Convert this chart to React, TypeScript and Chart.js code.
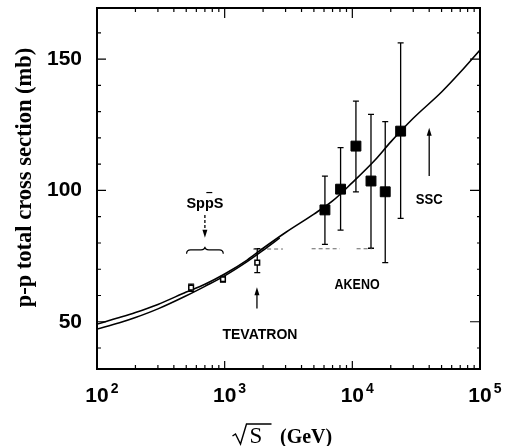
import React, { useEffect, useRef } from 'react';
import { Chart, registerables } from 'chart.js';

Chart.register(...registerables);

// ---------------- data ----------------
const upperCurveX = [100, 150, 200, 300, 500, 700, 1000, 1500, 2000, 3000, 5000, 7000, 10000, 15000, 20000, 30000, 50000, 70000, 100000];
const upperCurveY = [49.1, 51.6, 53.5, 56.6, 61.3, 64.3, 68.2, 73.5, 78, 84, 91, 96, 103, 111.5, 118.5, 127.5, 137.5, 145, 153.5];

const lowerCurveX = [100, 150, 200, 300, 500, 700, 1000, 1500, 2000, 2700];
const lowerCurveY = [47.2, 49.6, 51.6, 54.9, 59.9, 63.5, 67.5, 72.9, 77.2, 81.9];

const akenoX = [6100, 8090, 10670, 14000, 18100, 23900];
const akenoY = [92.6, 100.5, 116.9, 103.6, 99.5, 122.6];
const akenoLow = [79.5, 84.9, 99.5, 78, 72.5, 89.4];
const akenoHigh = [105.5, 116.3, 134, 129, 126.2, 156.2];

const colliderX = [546, 970, 1800];
const colliderY = [63, 66.2, 72.5];
const colliderLow = [61.6, 65.1, 68.7];
const colliderHigh = [64.3, 67.3, 77.8];

const dashAX = [1670, 2860];
const dashAY = [77.7, 77.7];
const dashBX = [4800, 8000];
const dashBY = [77.8, 77.8];
const dashCX = [10800, 14200];
const dashCY = [77.8, 77.8];

// tick labels / tick positions
const xDecadeTicks = [100, 1000, 10000, 100000];
const xDecadeExponents = ['2', '3', '4', '5'];
const xMajorInnerTicks = [1000, 10000];
const xMinorTicks = [
  200, 300, 400, 500, 600, 700, 800, 900,
  2000, 3000, 4000, 5000, 6000, 7000, 8000, 9000,
  20000, 30000, 40000, 50000, 60000, 70000, 80000, 90000,
];
const yLabelTicks = [50, 100, 150];
const yMinorTicks = [40, 60, 70, 80, 90, 110, 120, 130, 140, 160];

const yTitle = 'p-p total cross section (mb)';
const xTitleVar = 'S';
const xTitleUnit = '(GeV)';

// annotations (data coordinates)
const annotationLabels = [
  { text: 'SppS', x: 700, y: 93.3, width: 37, bar: true },
  { text: 'TEVATRON', x: 1890, y: 43.4, width: 75, bar: false },
  { text: 'AKENO', x: 10900, y: 62.5, width: 45, bar: false },
  { text: 'SSC', x: 40000, y: 94.9, width: 27, bar: false },
];
const annotationArrows = [
  { x: 700, from: 90.7, to: 82, dashed: true },
  { x: 1790, from: 55, to: 63.1, dashed: false },
  { x: 40000, from: 105.5, to: 123.9, dashed: false },
];
const braceSpec = { x1: 503, x2: 975, y: 77.4 };

const SANS = '"Liberation Sans", Arial, Helvetica, sans-serif';
const SERIF = '"Liberation Serif", "Times New Roman", serif';

const decorPlugin = {
  id: 'decor',
  beforeDatasetsDraw(chart: any) {
    const ctx = chart.ctx;
    const xs = chart.scales.x;
    const ys = chart.scales.y;
    ctx.save();
    ctx.strokeStyle = '#000';
    ctx.lineWidth = 1.3;
    const bars = (X: number[], L: number[], H: number[], cap: number) => {
      X.forEach((x, i) => {
        const px = xs.getPixelForValue(x);
        const pl = ys.getPixelForValue(L[i]);
        const ph = ys.getPixelForValue(H[i]);
        ctx.beginPath();
        ctx.moveTo(px, pl); ctx.lineTo(px, ph);
        ctx.moveTo(px - cap, pl); ctx.lineTo(px + cap, pl);
        ctx.moveTo(px - cap, ph); ctx.lineTo(px + cap, ph);
        ctx.stroke();
      });
    };
    bars(akenoX, akenoLow, akenoHigh, 3);
    bars(colliderX, colliderLow, colliderHigh, 3);
    ctx.restore();
  },
  afterDraw(chart: any) {
    const ctx = chart.ctx;
    const ca = chart.chartArea;
    const xs = chart.scales.x;
    const ys = chart.scales.y;
    ctx.save();
    ctx.strokeStyle = '#000';
    ctx.fillStyle = '#000';

    // frame
    ctx.lineWidth = 2;
    ctx.strokeRect(ca.left, ca.top, ca.right - ca.left, ca.bottom - ca.top);

    // ticks
    ctx.lineWidth = 1.2;
    ctx.beginPath();
    xMajorInnerTicks.forEach((v) => {
      const px = xs.getPixelForValue(v);
      ctx.moveTo(px, ca.bottom); ctx.lineTo(px, ca.bottom - 8);
      ctx.moveTo(px, ca.top); ctx.lineTo(px, ca.top + 10);
    });
    xMinorTicks.forEach((v) => {
      const px = xs.getPixelForValue(v);
      ctx.moveTo(px, ca.bottom); ctx.lineTo(px, ca.bottom - 4);
      ctx.moveTo(px, ca.top); ctx.lineTo(px, ca.top + 4);
    });
    yLabelTicks.forEach((v) => {
      const py = ys.getPixelForValue(v);
      ctx.moveTo(ca.left, py); ctx.lineTo(ca.left + 9, py);
      ctx.moveTo(ca.right, py); ctx.lineTo(ca.right - 10, py);
    });
    yMinorTicks.forEach((v) => {
      const py = ys.getPixelForValue(v);
      ctx.moveTo(ca.left, py); ctx.lineTo(ca.left + 4, py);
      ctx.moveTo(ca.right, py); ctx.lineTo(ca.right - 3, py);
    });
    ctx.stroke();

    // x tick labels 10^n
    xDecadeTicks.forEach((v, i) => {
      const px = xs.getPixelForValue(v);
      ctx.font = `bold 21px ${SANS}`;
      ctx.textAlign = 'center';
      ctx.textBaseline = 'alphabetic';
      const w = ctx.measureText('10').width;
      ctx.fillText('10', px, ca.bottom + 33);
      ctx.font = `bold 14px ${SANS}`;
      ctx.textAlign = 'left';
      ctx.fillText(xDecadeExponents[i], px + w / 2 + 2, ca.bottom + 24);
    });

    // y title
    ctx.save();
    ctx.translate(25, (ca.top + ca.bottom) / 2 - 11);
    ctx.rotate(-Math.PI / 2);
    ctx.font = `bold 22.5px ${SERIF}`;
    ctx.textAlign = 'center';
    ctx.textBaseline = 'middle';
    ctx.fillText(yTitle, 0, 0);
    ctx.restore();

    // x title with radical
    const cx = (ca.left + ca.right) / 2;
    const base = ca.bottom + 74;
    ctx.lineWidth = 1.4;
    ctx.beginPath();
    ctx.moveTo(cx - 56, base - 7);
    ctx.lineTo(cx - 53, base - 9);
    ctx.lineTo(cx - 48, base + 1);
    ctx.lineTo(cx - 42, base - 19);
    ctx.lineTo(cx - 17, base - 19);
    ctx.stroke();
    ctx.font = `23px ${SERIF}`;
    ctx.textAlign = 'left';
    ctx.textBaseline = 'alphabetic';
    ctx.fillText(xTitleVar, cx - 39, base);
    ctx.font = `bold 20px ${SERIF}`;
    ctx.fillText(xTitleUnit, cx - 8.5, base);

    // annotation labels
    annotationLabels.forEach((a) => {
      const px = xs.getPixelForValue(a.x);
      const py = ys.getPixelForValue(a.y);
      ctx.font = `bold 15px ${SANS}`;
      ctx.textAlign = 'left';
      ctx.textBaseline = 'alphabetic';
      const mw = ctx.measureText(a.text).width;
      const s = a.width / mw;
      ctx.save();
      ctx.translate(px - a.width / 2, py);
      ctx.scale(s, 1);
      ctx.fillText(a.text, 0, 0);
      if (a.bar) {
        const w1 = ctx.measureText('Sp').width;
        const w2 = ctx.measureText('Spp').width;
        ctx.lineWidth = 1.2;
        ctx.beginPath();
        ctx.moveTo(w1 + 1.5, -15.5);
        ctx.lineTo(w2 - 1.5, -15.5);
        ctx.stroke();
      }
      ctx.restore();
    });

    // arrows
    annotationArrows.forEach((a) => {
      const px = xs.getPixelForValue(a.x);
      const p0 = ys.getPixelForValue(a.from);
      const p1 = ys.getPixelForValue(a.to);
      const dir = p1 > p0 ? 1 : -1;
      ctx.lineWidth = 1.3;
      ctx.setLineDash(a.dashed ? [3, 2] : []);
      ctx.beginPath();
      ctx.moveTo(px, p0);
      ctx.lineTo(px, p1 - dir * 5);
      ctx.stroke();
      ctx.setLineDash([]);
      ctx.beginPath();
      ctx.moveTo(px, p1);
      ctx.lineTo(px - 2.5, p1 - dir * 8);
      ctx.lineTo(px + 2.5, p1 - dir * 8);
      ctx.closePath();
      ctx.fill();
    });

    // brace
    {
      const x1 = xs.getPixelForValue(braceSpec.x1);
      const x2 = xs.getPixelForValue(braceSpec.x2);
      const y = ys.getPixelForValue(braceSpec.y);
      const xm = (x1 + x2) / 2;
      ctx.lineWidth = 1.2;
      ctx.beginPath();
      ctx.moveTo(x1, y + 4);
      ctx.quadraticCurveTo(x1, y, x1 + 4, y);
      ctx.lineTo(xm - 4, y);
      ctx.quadraticCurveTo(xm, y, xm, y - 3);
      ctx.quadraticCurveTo(xm, y, xm + 4, y);
      ctx.lineTo(x2 - 4, y);
      ctx.quadraticCurveTo(x2, y, x2, y + 4);
      ctx.stroke();
    }

    ctx.restore();
  },
};

const pts = (X: number[], Y: number[]) => X.map((x, i) => ({ x, y: Y[i] }));

export default function App() {
  const ref = useRef<HTMLCanvasElement | null>(null);
  useEffect(() => {
    if (!ref.current) return;
    const chart = new Chart(ref.current, {
      type: 'scatter',
      data: {
        datasets: [
          {
            label: 'fit',
            data: pts(upperCurveX, upperCurveY),
            showLine: true,
            borderColor: '#000',
            borderWidth: 1.6,
            pointRadius: 0,
            cubicInterpolationMode: 'monotone',
            order: 2,
          } as any,
          {
            label: 'fit 2',
            data: pts(lowerCurveX, lowerCurveY),
            showLine: true,
            borderColor: '#000',
            borderWidth: 1.5,
            pointRadius: 0,
            cubicInterpolationMode: 'monotone',
            order: 2,
          } as any,
          {
            label: 'dashA',
            data: pts(dashAX, dashAY),
            showLine: true,
            borderColor: '#666',
            borderWidth: 1,
            borderDash: [4, 3],
            pointRadius: 0,
            order: 3,
          } as any,
          {
            label: 'dashB',
            data: pts(dashBX, dashBY),
            showLine: true,
            borderColor: '#666',
            borderWidth: 1,
            borderDash: [4, 3],
            pointRadius: 0,
            order: 3,
          } as any,
          {
            label: 'dashC',
            data: pts(dashCX, dashCY),
            showLine: true,
            borderColor: '#666',
            borderWidth: 1,
            borderDash: [4, 3],
            pointRadius: 0,
            order: 3,
          } as any,
          {
            label: 'AKENO',
            data: pts(akenoX, akenoY),
            pointStyle: 'rect',
            pointRadius: 7,
            backgroundColor: '#000',
            borderColor: '#000',
            borderWidth: 1,
            order: 0,
          } as any,
          {
            label: 'collider',
            data: pts(colliderX, colliderY),
            pointStyle: 'rect',
            pointRadius: 3.3,
            backgroundColor: '#fff',
            borderColor: '#000',
            borderWidth: 1.5,
            order: 0,
          } as any,
        ],
      },
      options: {
        responsive: false,
        animation: false,
        events: [],
        layout: { padding: { top: 7, right: 25, left: 0, bottom: 0 } },
        plugins: {
          legend: { display: false },
          tooltip: { enabled: false },
          title: { display: false },
        },
        scales: {
          x: {
            type: 'logarithmic',
            min: 100,
            max: 100000,
            grid: { display: false, drawTicks: false },
            border: { display: false },
            ticks: { display: false },
            afterFit: (s: any) => {
              s.height = 77;
              s.paddingLeft = 0;
              s.paddingRight = 0;
            },
          },
          y: {
            type: 'linear',
            min: 32,
            max: 169.5,
            grid: { display: false, drawTicks: false },
            border: { display: false },
            ticks: {
              color: '#000',
              padding: 15,
              font: { family: SANS, size: 21, weight: 'bold' },
            },
            afterBuildTicks: (s: any) => { s.ticks = yLabelTicks.map((v) => ({ value: v })); },
            afterFit: (s: any) => {
              s.width = 97;
              s.paddingTop = 0;
              s.paddingBottom = 0;
            },
          },
        },
      } as any,
      plugins: [decorPlugin],
    });
    return () => chart.destroy();
  }, []);
  return (
    <div style={{ position: 'fixed', left: 0, top: 0, width: 505, height: 446, background: '#fff' }}>
      <canvas ref={ref} width={505} height={446} style={{ display: 'block' }} />
    </div>
  );
}
